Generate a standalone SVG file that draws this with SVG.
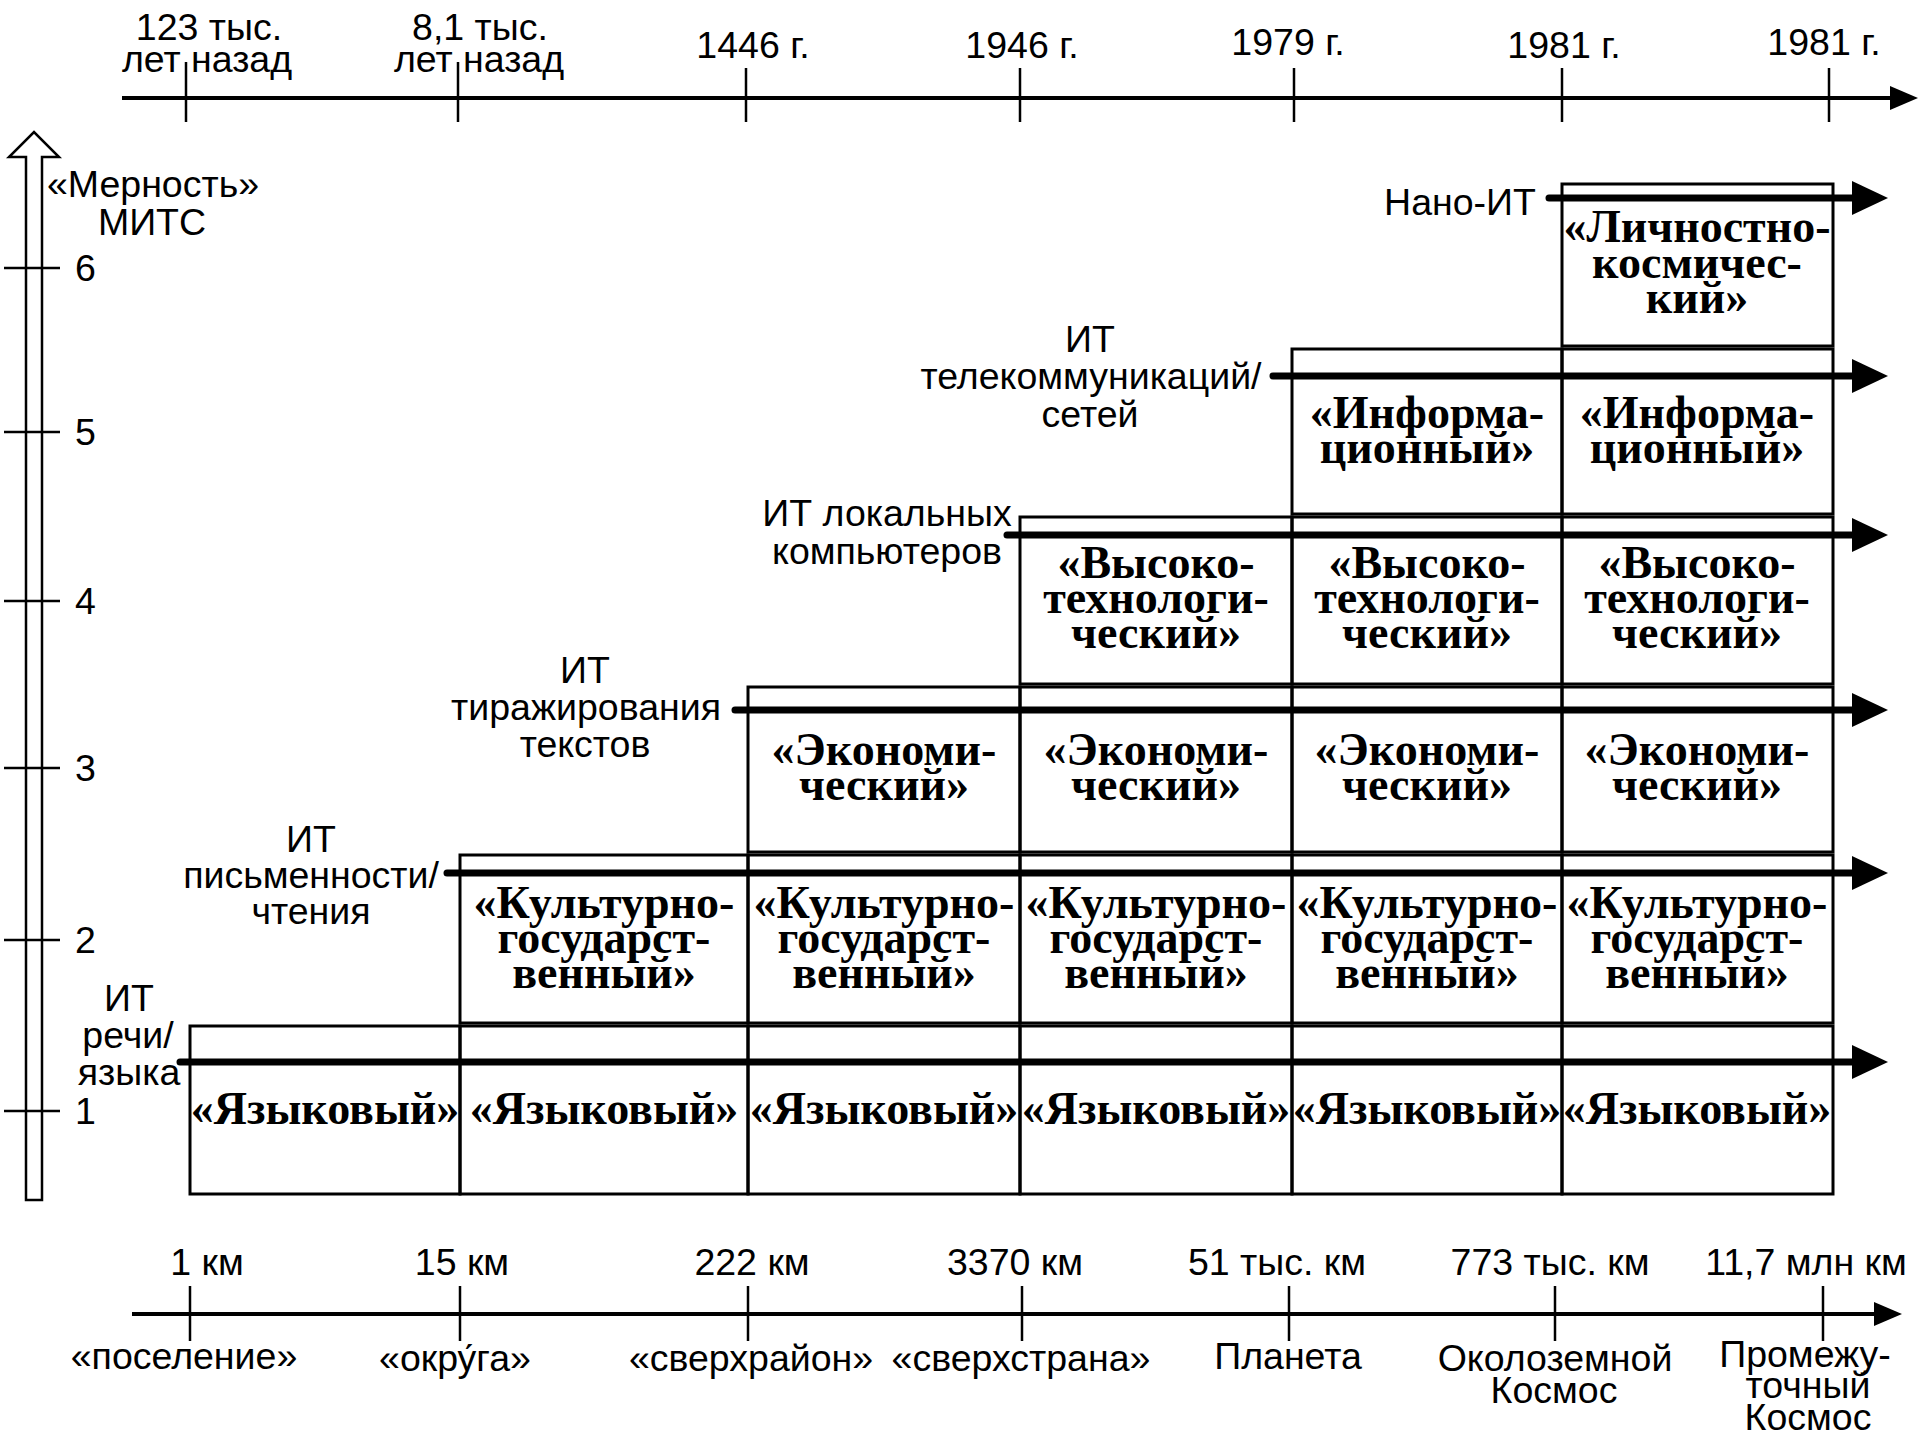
<svg xmlns="http://www.w3.org/2000/svg" width="1920" height="1440" viewBox="0 0 1920 1440">
<style>
.bg{fill:#fff}
.cell{fill:none;stroke:#000;stroke-width:3}
.ax{stroke:#000;stroke-width:4;fill:none}
.tk{stroke:#000;stroke-width:2.5;fill:none}
.arr{stroke:#000;stroke-width:7;stroke-linecap:round;fill:none}
.lab{font-family:"Liberation Sans",Arial,sans-serif;font-size:37.5px;fill:#000;text-anchor:middle}
.num{font-family:"Liberation Sans",Arial,sans-serif;font-size:37.5px;fill:#000}
.era{font-family:"Liberation Serif","Times New Roman",serif;font-weight:bold;font-size:46px;fill:#000;text-anchor:middle}
</style>
<defs>
<marker id="headBig" markerUnits="userSpaceOnUse" markerWidth="36" markerHeight="34" refX="0" refY="17" orient="auto"><path d="M0,0 L36,17 L0,34 z" fill="#000"/></marker>
<marker id="headAx" markerUnits="userSpaceOnUse" markerWidth="28" markerHeight="24" refX="0" refY="12" orient="auto"><path d="M0,0 L28,12 L0,24 z" fill="#000"/></marker>
</defs>
<rect class="bg" x="0" y="0" width="1920" height="1440"/>

<g id="time-axis">
<line class="ax" x1="122" y1="98" x2="1890" y2="98" marker-end="url(#headAx)"/>
<line class="tk" x1="186" y1="62" x2="186" y2="122"/>
<line class="tk" x1="458" y1="62" x2="458" y2="122"/>
<line class="tk" x1="746" y1="68" x2="746" y2="122"/>
<line class="tk" x1="1020" y1="68" x2="1020" y2="122"/>
<line class="tk" x1="1294" y1="68" x2="1294" y2="122"/>
<line class="tk" x1="1562" y1="68" x2="1562" y2="122"/>
<line class="tk" x1="1829" y1="68" x2="1829" y2="122"/>
<text class="lab" x="209" y="40">123 тыс.</text>
<text class="lab" x="207" y="72">лет  назад</text>
<text class="lab" x="480" y="40">8,1 тыс.</text>
<text class="lab" x="479" y="72">лет  назад</text>
<text class="lab" x="753" y="58">1446 г.</text>
<text class="lab" x="1022" y="58">1946 г.</text>
<text class="lab" x="1288" y="55">1979 г.</text>
<text class="lab" x="1564" y="58">1981 г.</text>
<text class="lab" x="1824" y="55">1981 г.</text>
</g>

<g id="dim-axis">
<path d="M26,1200 L26,157 L9,157 L34,132 L59,157 L42,157 L42,1200 Z" fill="#fff" stroke="#000" stroke-width="2.5"/>
<text class="lab" x="153" y="197">«Мерность»</text>
<text class="lab" x="152" y="235">МИТС</text>
<line class="tk" x1="4" y1="268" x2="60" y2="268"/><text class="num" x="75" y="281">6</text>
<line class="tk" x1="4" y1="432" x2="60" y2="432"/><text class="num" x="75" y="445">5</text>
<line class="tk" x1="4" y1="601" x2="60" y2="601"/><text class="num" x="75" y="614">4</text>
<line class="tk" x1="4" y1="768" x2="60" y2="768"/><text class="num" x="75" y="781">3</text>
<line class="tk" x1="4" y1="940" x2="60" y2="940"/><text class="num" x="75" y="953">2</text>
<line class="tk" x1="4" y1="1111" x2="60" y2="1111"/><text class="num" x="75" y="1124">1</text>
</g>

<g id="space-axis">
<line class="ax" x1="132" y1="1314" x2="1874" y2="1314" marker-end="url(#headAx)"/>
<line class="tk" x1="190" y1="1286" x2="190" y2="1341"/>
<line class="tk" x1="460" y1="1286" x2="460" y2="1341"/>
<line class="tk" x1="748" y1="1286" x2="748" y2="1341"/>
<line class="tk" x1="1022" y1="1286" x2="1022" y2="1341"/>
<line class="tk" x1="1289" y1="1286" x2="1289" y2="1341"/>
<line class="tk" x1="1555" y1="1286" x2="1555" y2="1341"/>
<line class="tk" x1="1823" y1="1286" x2="1823" y2="1341"/>
<text class="lab" x="207" y="1275">1 км</text>
<text class="lab" x="462" y="1275">15 км</text>
<text class="lab" x="752" y="1275">222 км</text>
<text class="lab" x="1015" y="1275">3370 км</text>
<text class="lab" x="1277" y="1275">51 тыс. км</text>
<text class="lab" x="1550" y="1275">773 тыс. км</text>
<text class="lab" x="1806" y="1275">11,7 млн км</text>
<text class="lab" x="184" y="1369">«поселение»</text>
<text class="lab" x="455" y="1371">«окру́га»</text>
<text class="lab" x="751" y="1371">«сверхрайон»</text>
<text class="lab" x="1021" y="1371">«сверхстрана»</text>
<text class="lab" x="1288" y="1369">Планета</text>
<text class="lab" x="1555" y="1371">Околоземной</text>
<text class="lab" x="1554" y="1403">Космос</text>
<text class="lab" x="1805" y="1367">Промежу-</text>
<text class="lab" x="1808" y="1398">точный</text>
<text class="lab" x="1808" y="1430">Космос</text>
</g>

<g id="row1-c0"><rect class="cell" x="190" y="1026" width="270" height="168"/><text class="era" x="325" y="1124">«Языковый»</text></g>
<g id="row1-c1"><rect class="cell" x="460" y="1026" width="288" height="168"/><text class="era" x="604" y="1124">«Языковый»</text></g>
<g id="row1-c2"><rect class="cell" x="748" y="1026" width="272" height="168"/><text class="era" x="884" y="1124">«Языковый»</text></g>
<g id="row1-c3"><rect class="cell" x="1020" y="1026" width="272" height="168"/><text class="era" x="1156" y="1124">«Языковый»</text></g>
<g id="row1-c4"><rect class="cell" x="1292" y="1026" width="270" height="168"/><text class="era" x="1427" y="1124">«Языковый»</text></g>
<g id="row1-c5"><rect class="cell" x="1562" y="1026" width="271" height="168"/><text class="era" x="1697" y="1124">«Языковый»</text></g>

<g id="row2-c1"><rect class="cell" x="460" y="855" width="288" height="168"/><text class="era" x="604" y="918">«Культурно-</text><text class="era" x="604" y="953">государст-</text><text class="era" x="604" y="988">венный»</text></g>
<g id="row2-c2"><rect class="cell" x="748" y="855" width="272" height="168"/><text class="era" x="884" y="918">«Культурно-</text><text class="era" x="884" y="953">государст-</text><text class="era" x="884" y="988">венный»</text></g>
<g id="row2-c3"><rect class="cell" x="1020" y="855" width="272" height="168"/><text class="era" x="1156" y="918">«Культурно-</text><text class="era" x="1156" y="953">государст-</text><text class="era" x="1156" y="988">венный»</text></g>
<g id="row2-c4"><rect class="cell" x="1292" y="855" width="270" height="168"/><text class="era" x="1427" y="918">«Культурно-</text><text class="era" x="1427" y="953">государст-</text><text class="era" x="1427" y="988">венный»</text></g>
<g id="row2-c5"><rect class="cell" x="1562" y="855" width="271" height="168"/><text class="era" x="1697" y="918">«Культурно-</text><text class="era" x="1697" y="953">государст-</text><text class="era" x="1697" y="988">венный»</text></g>

<g id="row3-c2"><rect class="cell" x="748" y="687" width="272" height="165"/><text class="era" x="884" y="765">«Экономи-</text><text class="era" x="884" y="800">ческий»</text></g>
<g id="row3-c3"><rect class="cell" x="1020" y="687" width="272" height="165"/><text class="era" x="1156" y="765">«Экономи-</text><text class="era" x="1156" y="800">ческий»</text></g>
<g id="row3-c4"><rect class="cell" x="1292" y="687" width="270" height="165"/><text class="era" x="1427" y="765">«Экономи-</text><text class="era" x="1427" y="800">ческий»</text></g>
<g id="row3-c5"><rect class="cell" x="1562" y="687" width="271" height="165"/><text class="era" x="1697" y="765">«Экономи-</text><text class="era" x="1697" y="800">ческий»</text></g>

<g id="row4-c3"><rect class="cell" x="1020" y="517" width="272" height="167"/><text class="era" x="1156" y="578">«Высоко-</text><text class="era" x="1156" y="613">технологи-</text><text class="era" x="1156" y="648">ческий»</text></g>
<g id="row4-c4"><rect class="cell" x="1292" y="517" width="270" height="167"/><text class="era" x="1427" y="578">«Высоко-</text><text class="era" x="1427" y="613">технологи-</text><text class="era" x="1427" y="648">ческий»</text></g>
<g id="row4-c5"><rect class="cell" x="1562" y="517" width="271" height="167"/><text class="era" x="1697" y="578">«Высоко-</text><text class="era" x="1697" y="613">технологи-</text><text class="era" x="1697" y="648">ческий»</text></g>

<g id="row5-c4"><rect class="cell" x="1292" y="349" width="270" height="165"/><text class="era" x="1427" y="428">«Информа-</text><text class="era" x="1427" y="463">ционный»</text></g>
<g id="row5-c5"><rect class="cell" x="1562" y="349" width="271" height="165"/><text class="era" x="1697" y="428">«Информа-</text><text class="era" x="1697" y="463">ционный»</text></g>

<g id="row6-c5"><rect class="cell" x="1562" y="184" width="271" height="162"/><text class="era" x="1697" y="242">«Личностно-</text><text class="era" x="1697" y="278">космичес-</text><text class="era" x="1697" y="313">кий»</text></g>

<g id="it-labels">
<text class="lab" x="129" y="1011">ИТ</text>
<text class="lab" x="128" y="1048">речи/</text>
<text class="lab" x="129" y="1085">языка</text>
<text class="lab" x="311" y="852">ИТ</text>
<text class="lab" x="311" y="888">письменности/</text>
<text class="lab" x="311" y="924">чтения</text>
<text class="lab" x="585" y="683">ИТ</text>
<text class="lab" x="586" y="720">тиражирования</text>
<text class="lab" x="585" y="757">текстов</text>
<text class="lab" x="887" y="526">ИТ локальных</text>
<text class="lab" x="887" y="564">компьютеров</text>
<text class="lab" x="1090" y="352">ИТ</text>
<text class="lab" x="1091" y="389">телекоммуникаций/</text>
<text class="lab" x="1090" y="427">сетей</text>
<text class="lab" x="1460" y="215">Нано-ИТ</text>
</g>

<g id="connectors">
<line class="arr" x1="180" y1="1062" x2="1852" y2="1062" marker-end="url(#headBig)"/>
<line class="arr" x1="447" y1="873" x2="1852" y2="873" marker-end="url(#headBig)"/>
<line class="arr" x1="735" y1="710" x2="1852" y2="710" marker-end="url(#headBig)"/>
<line class="arr" x1="1007" y1="535" x2="1852" y2="535" marker-end="url(#headBig)"/>
<line class="arr" x1="1273" y1="376" x2="1852" y2="376" marker-end="url(#headBig)"/>
<line class="arr" x1="1549" y1="198" x2="1852" y2="198" marker-end="url(#headBig)"/>
</g>
</svg>
